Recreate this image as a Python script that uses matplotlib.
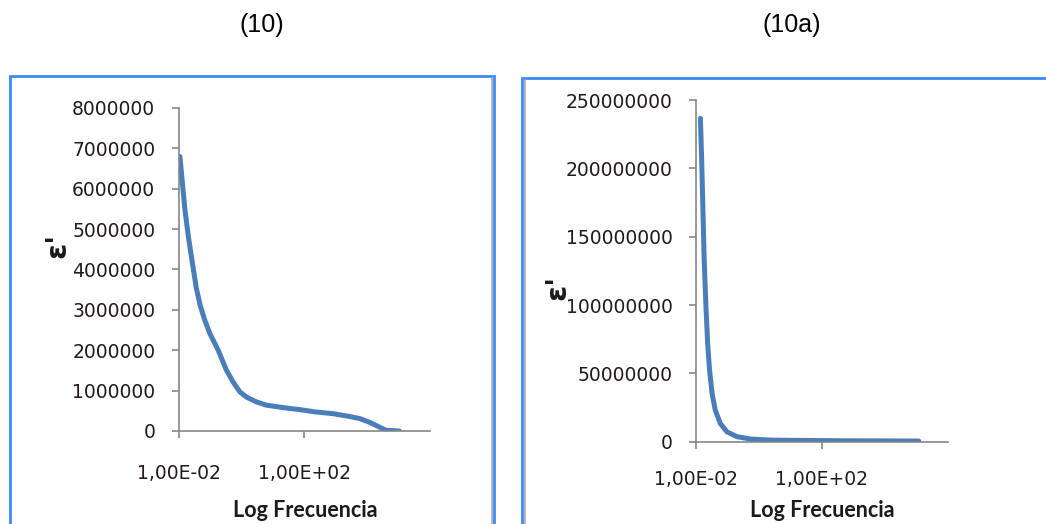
import matplotlib.pyplot as plt
import numpy as np
from matplotlib.patches import Rectangle
from matplotlib.lines import Line2D

# Datos (log10 de la frecuencia, permitividad)
log_f_10 = [-1.97, -1.88, -1.81, -1.70, -1.57, -1.45, -1.32, -1.18, -1.02, -0.75, -0.49,
            -0.28, -0.06, 0.15, 0.47, 0.78, 1.31, 1.84, 2.37, 2.90, 3.43,
            3.75, 4.06, 4.38, 4.59, 5.02]
eps_10 = [6.80e6, 6.05e6, 5.48e6, 4.81e6, 4.15e6, 3.55e6, 3.10e6, 2.75e6, 2.42e6, 2.00e6, 1.51e6,
          1.22e6, 0.97e6, 0.84e6, 0.72e6, 0.64e6, 0.58e6, 0.53e6, 0.47e6, 0.43e6, 0.36e6,
          0.31e6, 0.22e6, 0.10e6, 0.02e6, 0.0]

log_f_10a = [-1.86, -1.82, -1.78, -1.74, -1.68, -1.63, -1.57, -1.49, -1.39, -1.23,
             -1.02, -0.70, -0.28, 0.36, 1.10, 2.69, 5.07]
eps_10a = [236.6e6, 206e6, 169.5e6, 133e6, 96.3e6, 72e6, 52.4e6, 35.4e6, 23.2e6, 13.4e6,
           7.3e6, 3.7e6, 2.0e6, 1.2e6, 1.0e6, 0.7e6, 0.5e6]

yticks_10 = [0, 1000000, 2000000, 3000000, 4000000, 5000000, 6000000, 7000000, 8000000]
yticks_10a = [0, 50000000, 100000000, 150000000, 200000000, 250000000]
xticks = [1e-2, 1e2]
xtick_labels = ['1,00E-02', '1,00E+02']

LINE = '#4a7ebb'
AXIS = '#868686'
TXT = '#231a1a'
BOX = '#3a8cf2'

fig = plt.figure(figsize=(10.46, 5.24), dpi=100)


def style_axes(ax, yticks, ypad, xpad):
    ax.set_xscale('log')
    ax.set_xlim(1e-2, 1e6)
    ax.set_ylim(yticks[0], yticks[-1])
    ax.set_xticks(xticks)
    ax.set_xticklabels(xtick_labels)
    ax.minorticks_off()
    ax.set_yticks(yticks)
    ax.set_yticklabels([str(v) for v in yticks])
    for s in ['top', 'right']:
        ax.spines[s].set_visible(False)
    for s in ['left', 'bottom']:
        ax.spines[s].set_color(AXIS)
        ax.spines[s].set_linewidth(1.2)
    ax.tick_params(axis='both', direction='out', length=5, width=1.2, color=AXIS,
                   labelcolor=TXT, labelsize=13.5)
    ax.tick_params(axis='y', pad=ypad)
    ax.tick_params(axis='x', pad=xpad)
    for lab in ax.get_xticklabels() + ax.get_yticklabels():
        lab.set_family('DejaVu Sans')
    ax.patch.set_alpha(0)


# (10)
ax1 = fig.add_axes([0.1711, 0.1775, 0.240, 0.6164])
ax1.plot(10 ** np.array(log_f_10), eps_10, color=LINE, lw=3.6, solid_capstyle='round')
style_axes(ax1, yticks_10, 12, 19)
ax1.set_xlabel('Log Frecuencia', fontsize=15.5, fontweight='bold', family='Lato', color='#1a1a1a')
ax1.xaxis.set_label_coords(0.502, -0.245)
ax1.xaxis.label.set_va('center')
ax1.set_ylabel("ε'", fontsize=21, fontweight='bold', color='#1a1a1a')
ax1.yaxis.set_label_coords(-0.486, 0.576)
ax1.yaxis.label.set_va('center')

# (10a)
ax2 = fig.add_axes([0.6654, 0.157, 0.2409, 0.652])
ax2.plot(10 ** np.array(log_f_10a), eps_10a, color=LINE, lw=3.6, solid_capstyle='round')
style_axes(ax2, yticks_10a, 12, 15)
ax2.set_xlabel('Log Frecuencia', fontsize=15.5, fontweight='bold', family='Lato', color='#1a1a1a')
ax2.xaxis.set_label_coords(0.502, -0.2)
ax2.xaxis.label.set_va('center')
ax2.set_ylabel("ε'", fontsize=21, fontweight='bold', color='#1a1a1a')
ax2.yaxis.set_label_coords(-0.552, 0.453)
ax2.yaxis.label.set_va('center')

# titulos
title_font = ['Liberation Sans Narrow', 'Liberation Sans', 'DejaVu Sans']
fig.text(262 / 1046, 1 - 25 / 524, '(10)', ha='center', va='center', fontsize=18,
         family=title_font, color='black')
fig.text(792 / 1046, 1 - 25 / 524, '(10a)', ha='center', va='center', fontsize=18,
         family=title_font, color='black')

# marcos de los graficos
fig.add_artist(Rectangle((10 / 1046, -0.1), 484 / 1046, 1.1 - 76 / 524,
                         transform=fig.transFigure, fill=False, ec=BOX, lw=2.0))
fig.add_artist(Line2D([491.5 / 1046] * 2, [0, 1 - 78 / 524], transform=fig.transFigure,
                      color='#a8a8a8', lw=1.2))
fig.add_artist(Rectangle((522 / 1046, -0.1), 0.6, 1.1 - 78 / 524,
                         transform=fig.transFigure, fill=False, ec=BOX, lw=2.0))
fig.add_artist(Line2D([524.5 / 1046] * 2, [0, 1 - 80 / 524], transform=fig.transFigure,
                      color='#a8a8a8', lw=1.2))

plt.savefig('out.png', dpi=100)
plt.close()
